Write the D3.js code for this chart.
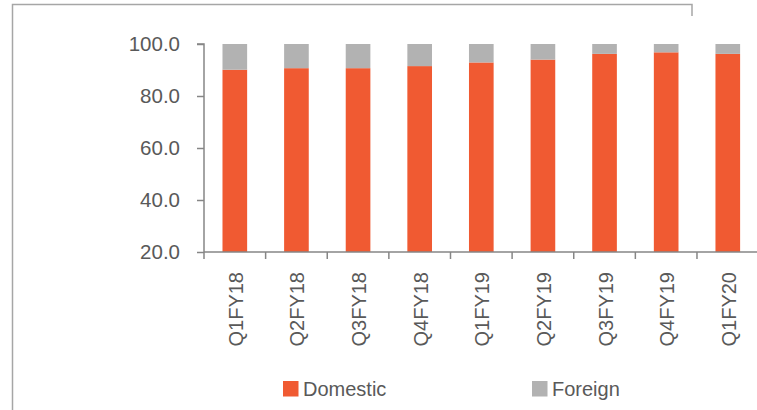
<!DOCTYPE html>
<html><head><meta charset="utf-8">
<script src="https://cdn.jsdelivr.net/npm/d3@7/dist/d3.min.js"></script>
<style>body{margin:0;background:#fff}svg{display:block}</style>
</head><body>
<svg id="c" width="757" height="410"></svg>
<script>
const categories = ["Q1FY18","Q2FY18","Q3FY18","Q4FY18","Q1FY19","Q2FY19","Q3FY19","Q4FY19","Q1FY20"];
const domestic = [90.1, 90.7, 90.7, 91.5, 92.9, 94.0, 96.2, 96.8, 96.2];
const foreign  = [9.9, 9.3, 9.3, 8.5, 7.1, 6.0, 3.8, 3.2, 3.8];
const seriesNames = ["Domestic","Foreign"];
const yTicks = [20, 40, 60, 80, 100];

const colors = {Domestic:"#F05A32", Foreign:"#B2B2B2"};
const font = "'Liberation Sans', Arial, sans-serif";
const svg = d3.select("#c");

// outer border (partial frame)
svg.append("path").attr("d","M12.5,410 L12.5,4.5 L692,4.5 L692,16")
  .attr("fill","none").attr("stroke","#A6A6A6").attr("stroke-width",1.5);

const x = d3.scaleBand().domain(categories).range([204, 758.6]).paddingInner(0.6).paddingOuter(0.3);
const y = d3.scaleLinear().domain([20,100]).range([252,44]);

const rows = categories.map((c,i)=>({cat:c, Domestic:domestic[i], Foreign:foreign[i]}));
const stacked = d3.stack().keys(seriesNames)(rows);
// stack base starts at 0; clip to axis min
svg.append("g").selectAll("g").data(stacked).join("g")
  .attr("fill", d=>colors[d.key])
  .selectAll("rect").data(d=>d).join("rect")
  .attr("x", d=>x(d.data.cat))
  .attr("width", x.bandwidth())
  .attr("y", d=>y(d[1]))
  .attr("height", d=>y(Math.max(d[0],20)) - y(d[1]));

// y axis
const yAxis = svg.append("g").attr("transform","translate(204,0)")
  .call(d3.axisLeft(y).tickValues(yTicks).tickSize(7).tickPadding(17).tickFormat(d3.format(".1f")));
yAxis.select(".domain").attr("stroke","#868686").attr("stroke-width",1.5).attr("d","M-7,44H0V252");
yAxis.selectAll(".tick line").attr("stroke","#868686").attr("stroke-width",1.5);
yAxis.selectAll("text").attr("fill","#595959").attr("font-size",20.5).attr("font-family",font);

// x axis
const xAxis = svg.append("g").attr("transform","translate(0,252)")
  .call(d3.axisBottom(x).tickSize(0).tickFormat(""));
xAxis.select(".domain").attr("stroke","#868686").attr("stroke-width",1.5).attr("d","M204,0H757");
const bounds = categories.map(c=>x(c) - x.step()*x.paddingInner()/2);
bounds[0] = 204;
svg.append("g").selectAll("line").data(bounds).join("line")
  .attr("x1",d=>d).attr("x2",d=>d).attr("y1",252).attr("y2",259)
  .attr("stroke","#868686").attr("stroke-width",1.5);
svg.append("g").selectAll("text").data(categories).join("text")
  .attr("transform", d=>`translate(${x(d)+x.bandwidth()/2+8},272) rotate(-90)`)
  .attr("text-anchor","end")
  .attr("fill","#595959").attr("font-size",20).attr("font-family",font)
  .text(d=>d);

// legend
const legendX = [283, 532];
const lg = svg.append("g").selectAll("g").data(seriesNames).join("g")
  .attr("transform",(d,i)=>`translate(${legendX[i]},0)`);
lg.append("rect").attr("x",0).attr("y",381).attr("width",15.5).attr("height",15.5).attr("fill",d=>colors[d]);
lg.append("text").attr("x",20).attr("y",396).attr("fill","#595959")
  .attr("font-size",20).attr("font-family",font).text(d=>d);
</script>
</body></html>
